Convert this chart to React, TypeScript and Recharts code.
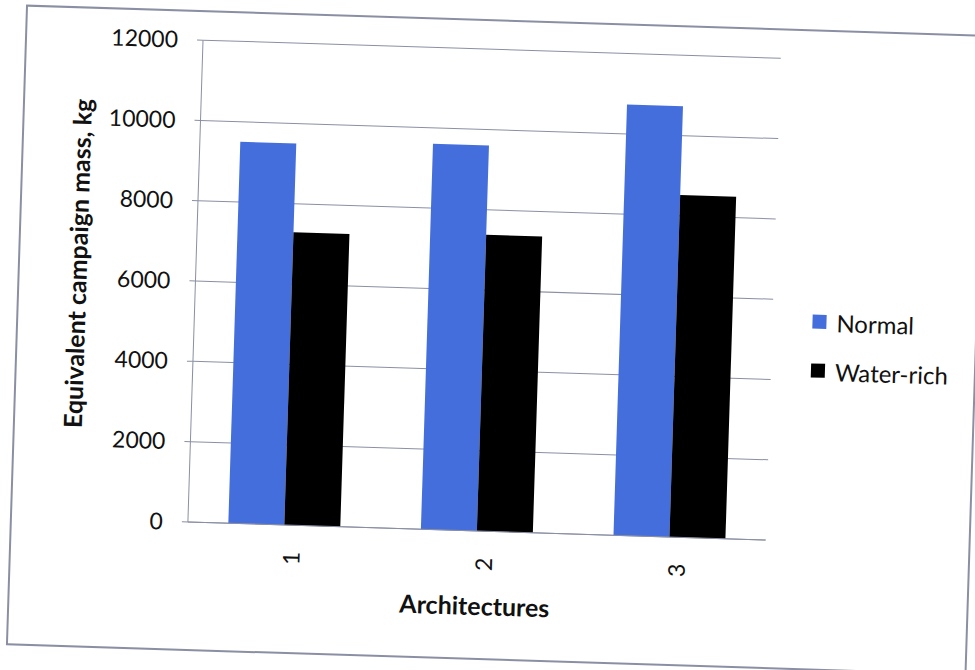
import React from 'react'
import { BarChart, Bar, XAxis, YAxis, CartesianGrid, Legend, Label } from 'recharts'

// values
const architectures = ['1', '2', '3']
const normalMass = [9500, 9600, 10730]
const waterRichMass = [7290, 7380, 8520]
const yTicks = [0, 2000, 4000, 6000, 8000, 10000, 12000]

const rows = architectures.map((arch, i) => ({
  arch,
  normal: normalMass[i],
  waterRich: waterRichMass[i],
}))

const BLUE = '#446edc'
const GRID = '#8a8fa3'
const FONT = 'Lato, "Open Sans", sans-serif'
const titleStyle = { fontSize: 25, fontWeight: 700, fill: '#111', fontFamily: FONT }

function LegendList({ payload }: { payload?: Array<{ value: string; color: string }> }) {
  return (
    <div style={{ fontFamily: FONT, fontSize: 24, color: '#111' }}>
      {(payload || []).map((p) => (
        <div key={p.value} style={{ display: 'flex', alignItems: 'center', height: 26, marginBottom: 23 }}>
          <span style={{ display: 'inline-block', width: 14, height: 14, background: p.color, marginRight: 10 }} />
          <span>{p.value}</span>
        </div>
      ))}
    </div>
  )
}

// y title, centred a little above the middle of the plot like the original
function YTitle({ viewBox }: any) {
  const x = viewBox.x + 76
  const y = viewBox.y + viewBox.height / 2 - 14
  return (
    <text x={x} y={y} transform={`rotate(-90 ${x} ${y})`} textAnchor="middle" dominantBaseline="central" style={titleStyle}>
      Equivalent campaign mass, kg
    </text>
  )
}

export default function App() {
  return (
    <div style={{ position: 'absolute', left: 0, top: 0, width: 975, height: 670, overflow: 'hidden', background: '#fff' }}>
      {/* the scan is tilted a little, so the whole sheet is turned */}
      <div style={{ position: 'relative', width: 975, height: 670, transform: 'rotate(1.8deg)', transformOrigin: '480px 300px' }}>
        <div style={{ position: 'absolute', left: 17, top: 19, width: 957, height: 637, border: `2px solid ${GRID}` }} />
        <BarChart
          width={975}
          height={670}
          data={rows}
          margin={{ top: 49, right: 202, bottom: 39, left: 0 }}
          barCategoryGap="21%"
          barGap={0}
          style={{ position: 'absolute', left: 0, top: 0 }}
        >
          <CartesianGrid vertical={false} stroke={GRID} />
          <XAxis
            dataKey="arch"
            height={100}
            axisLine={{ stroke: GRID }}
            tickLine={false}
            tickSize={6}
            tickMargin={27}
            angle={-90}
            tick={{ fontSize: 23, fill: '#111', fontFamily: FONT }}
          >
            <Label value="Architectures" position="insideBottom" offset={16} style={titleStyle} />
          </XAxis>
          <YAxis
            width={195}
            domain={[0, 12000]}
            ticks={yTicks}
            axisLine={{ stroke: GRID }}
            tickLine={{ stroke: GRID }}
            tickSize={6}
            tickMargin={19}
            tick={{ fontSize: 23, fill: '#111', fontFamily: FONT }}
          >
            <Label content={<YTitle />} />
          </YAxis>
          <Legend
            layout="vertical"
            align="center"
            verticalAlign="middle"
            wrapperStyle={{ left: 813, top: 298, width: 160 }}
            content={<LegendList />}
          />
          <Bar dataKey="normal" name="Normal" fill={BLUE} isAnimationActive={false} />
          <Bar dataKey="waterRich" name="Water-rich" fill="#000" isAnimationActive={false} />
        </BarChart>
      </div>
    </div>
  )
}
